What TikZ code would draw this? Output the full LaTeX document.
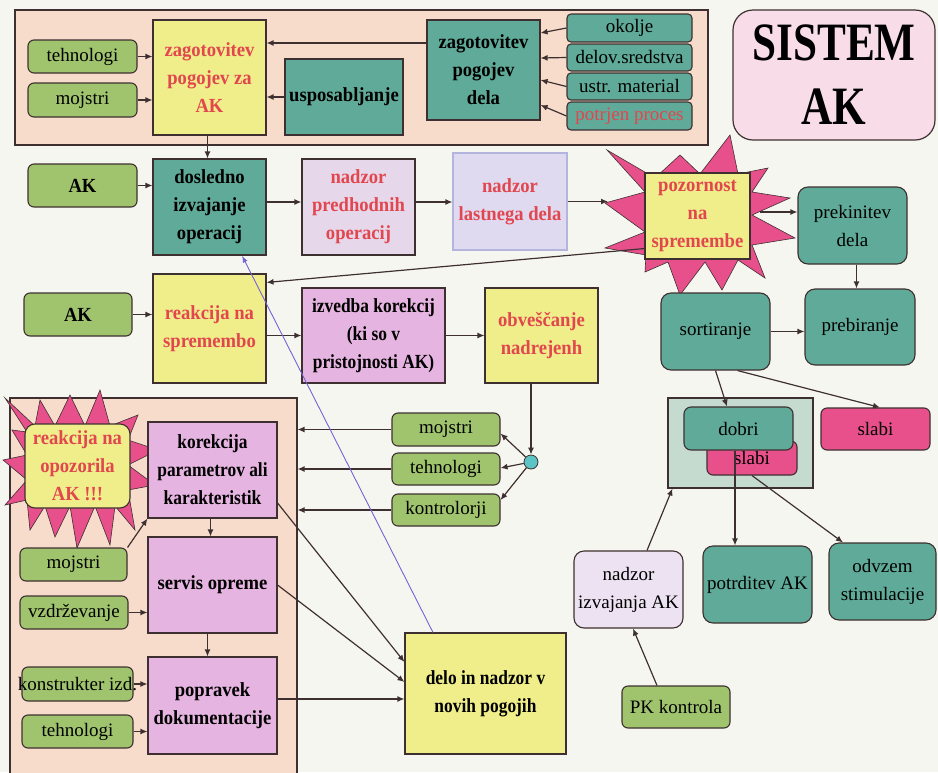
\documentclass[tikz,border=0pt]{standalone}
\usepackage{fontspec}
\setmainfont{Liberation Serif}[BoldFeatures={FakeStretch=0.93}]
\newfontfamily\condfont{Liberation Serif}[BoldFeatures={FakeStretch=0.87}]
\newfontfamily\titlefont{Liberation Serif}[BoldFeatures={FakeStretch=0.8}]
\usetikzlibrary{arrows.meta,calc}
\definecolor{bgc}{HTML}{F6F6F0}
\definecolor{edgec}{HTML}{3E3030}
\definecolor{peach}{HTML}{F8DCCB}
\definecolor{ylw}{HTML}{F0EE8A}
\definecolor{tealc}{HTML}{5FAA98}
\definecolor{grn}{HTML}{A0C46E}
\definecolor{lilac}{HTML}{E6D8EA}
\definecolor{lav}{HTML}{E0DAF0}
\definecolor{lavedge}{HTML}{B4B4DC}
\definecolor{pinkc}{HTML}{E6B4E0}
\definecolor{mag}{HTML}{E8508C}
\definecolor{sistc}{HTML}{F8DCE8}
\definecolor{framec}{HTML}{C5DBD0}
\definecolor{nizc}{HTML}{ECE2F2}
\definecolor{cyanc}{HTML}{5CC4C4}
\definecolor{redt}{HTML}{E2464E}
\definecolor{purp}{HTML}{7464D4}
\newcommand\fs{\fontsize{19}{28}\selectfont}
\newcommand\fb{\fontsize{20}{28}\selectfont\bfseries}
\newcommand\fc{\condfont\fontsize{20}{28}\selectfont\bfseries}
\tikzset{
  wh/.style 2 args={minimum width=#1pt, minimum height=#2pt},
  box/.style={draw=edgec, line width=1.1pt, inner sep=1pt, align=center, text=black, font=\fs},
  panel/.style={draw=edgec, fill=peach, line width=1.1pt, inner sep=0pt},
  grnbox/.style={box, fill=grn, rounded corners=6pt},
  tealsq/.style={box, fill=tealc, font=\fb},
  tealrnd/.style={box, fill=tealc, rounded corners=10pt},
  ylwbox/.style={box, fill=ylw, font=\fb, text=redt},
  pinkbox/.style={box, fill=pinkc, font=\fb},
  magbox/.style={box, fill=mag, rounded corners=6pt},
  arr/.style={-{Latex[length=7pt,width=6pt]}, line width=1.2pt, draw=edgec},
  burst/.style={fill=mag, draw=edgec, line width=0.6pt}
}
\begin{document}
\begin{tikzpicture}[x=1pt,y=-1pt]
\useasboundingbox (0,0) rectangle (938,772);
\fill[bgc] (0,0) rectangle (938,772);

% panels
\node[panel, wh={693}{135}] (panel1) at (361.5,77.5) {};
\node[panel, wh={287}{382}] (panel2) at (153.5,589) {};

% starbursts
\draw[burst] (607,150) -- (655,178) -- (680,155) -- (700,174) -- (730,135) -- (738,174)
  -- (768,168) -- (752,192) -- (790,198) -- (752,215) -- (795,238) -- (752,245)
  -- (765,278) -- (738,260) -- (722,290) -- (705,262) -- (680,295) -- (668,262)
  -- (645,272) -- (646,255) -- (605,248) -- (645,232) -- (605,203) -- (645,192) -- cycle;
\draw[burst] (5,398) -- (35,426) -- (40,400) -- (55,426) -- (70,395) -- (85,426)
  -- (100,390) -- (110,426) -- (138,415) -- (128,440) -- (158,450) -- (128,465)
  -- (155,485) -- (128,490) -- (135,530) -- (115,506) -- (110,545) -- (95,506)
  -- (77,548) -- (70,506) -- (55,537) -- (45,506) -- (30,530) -- (27,500)
  -- (5,505) -- (27,480) -- (3,460) -- (27,455) -- (12,430) -- (27,432) -- cycle;

% top panel
\node[ylwbox, wh={113}{115}] (zpa) at (209.5,77.5) {zagotovitev\\pogojev za\\AK};
\node[grnbox, wh={109}{33}] (tehA) at (82.5,56.5) {tehnologi};
\node[grnbox, wh={109}{34}] (mojA) at (82.5,100) {mojstri};
\node[tealsq, wh={118}{76}] (usp) at (344,97) {usposabljanje};
\node[tealsq, wh={113}{100}] (zpd) at (483.5,70) {zagotovitev\\pogojev\\dela};
\node[box, fill=tealc, rounded corners=4pt, wh={125}{28}] (okolje) at (629.5,28) {okolje};
\node[box, fill=tealc, rounded corners=4pt, wh={125}{27}] (delov) at (629.5,57.5) {delov.sredstva};
\node[box, fill=tealc, rounded corners=4pt, wh={125}{27}] (ustr) at (629.5,86.5) {ustr. material};
\node[box, fill=tealc, rounded corners=4pt, wh={125}{28}, text=redt] (potrjen) at (629.5,116) {potrjen proces};
\node[draw=edgec, fill=sistc, rounded corners=20pt, line width=1.2pt, wh={202}{130}, align=center,
  font=\titlefont\bfseries\fontsize{54}{64}\selectfont] (sistem) at (834,75) {SISTEM\\AK};

% row 2
\node[grnbox, wh={109}{43}, font=\fb] (AKa) at (82.5,185.5) {AK};
\node[tealsq, wh={113}{96}] (dos) at (209.5,207) {dosledno\\izvajanje\\operacij};
\node[box, fill=lilac, wh={113}{96}, font=\fb, text=redt] (npo) at (358.5,207) {nadzor\\predhodnih\\operacij};
\node[box, draw=lavedge, fill=lav, wh={114}{97}, font=\fb, text=redt] (nld) at (510,201.5) {nadzor\\lastnega dela};
\node[ylwbox, wh={105}{86}] (poz) at (697.5,216) {pozornost\\na\\spremembe};
\node[tealrnd, wh={109}{77}] (prek) at (852.5,225.5) {prekinitev\\dela};
\node[tealrnd, wh={110}{76}] (preb) at (860,327) {prebiranje};
\node[tealrnd, wh={109}{77}] (sort) at (715.5,331.5) {sortiranje};

% row 3
\node[grnbox, wh={108}{43}, font=\fb] (AKb) at (78,314.5) {AK};
\node[ylwbox, wh={113}{109}] (rea) at (209.5,328.5) {reakcija na\\spremembo};
\node[pinkbox, wh={143}{95}, font=\fc] (izv) at (373.5,335.5) {izvedba korekcij\\(ki so v\\pristojnosti AK)};
\node[ylwbox, wh={113}{95}] (obv) at (541.5,335.5) {obveščanje\\nadrejenh};

% distribution
\node[circle, draw=edgec, fill=cyanc, minimum size=14pt, inner sep=0pt, line width=0.8pt] (circ) at (531,462) {};
\node[grnbox, wh={108}{33}] (moj2) at (446,429.5) {mojstri};
\node[grnbox, wh={108}{32}] (teh2) at (446,469) {tehnologi};
\node[grnbox, wh={108}{32}] (kon2) at (446,510) {kontrolorji};

% bottom-left panel
\node[pinkbox, wh={129}{96}, font=\fc] (kor) at (212.5,470) {korekcija\\parametrov ali\\karakteristik};
\node[pinkbox, wh={129}{96}] (ser) at (212.5,585) {servis opreme};
\node[pinkbox, wh={129}{97}] (pop) at (212.5,705.5) {popravek\\dokumentacije};
\node[ylwbox, rounded corners=10pt, wh={105}{84}] (opo) at (77.5,466) {reakcija na\\opozorila\\AK !!!};
\node[grnbox, wh={107}{33}] (moj3) at (73.5,564.5) {mojstri};
\node[grnbox, wh={108}{33}] (vzd) at (74,612.5) {vzdrževanje};
\node[grnbox, wh={111}{34}] (konst) at (77.5,684) {};
\node[font=\fs, inner sep=0pt] (konsttxt) at (konst.center) {konstrukter izd.};
\node[grnbox, wh={111}{33}] (teh3) at (77.5,731.5) {tehnologi};
\node[ylwbox, wh={161}{121}, text=black, font=\fc] (delo) at (485.5,693.5) {delo in nadzor v\\novih pogojih};

% bottom-right
\node[draw=edgec, fill=framec, line width=1.1pt, wh={145}{90}, inner sep=0pt] (frame) at (740.5,443) {};
\node[magbox, wh={90}{34}] (slabiin) at (752,458) {\raisebox{-3pt}{slabi}};
\node[tealrnd, rounded corners=7pt, wh={109}{43}] (dobri) at (738.5,428.5) {dobri};
\node[magbox, wh={109}{42}] (slabir) at (875.5,429) {slabi};
\node[tealrnd, wh={109}{77}] (potr) at (757.5,584.5) {potrditev AK};
\node[tealrnd, wh={107}{77}] (odv) at (882.5,581.5) {odvzem\\stimulacije};
\node[box, fill=nizc, rounded corners=10pt, wh={109}{77}] (niz) at (628.5,589.5) {nadzor\\izvajanja AK};
\node[grnbox, wh={108}{42}] (pk) at (676,707) {PK kontrola};

% coordinates for free ends on the starburst
\coordinate (pozin) at (608,201.5);
\coordinate (pozout) at (760,212);

% connectors: top panel
\draw[arr] (tehA.east) -- (tehA.east -| zpa.west);
\draw[arr] (mojA.east) -- (mojA.east -| zpa.west);
\draw[arr] ([yshift=27pt]zpd.west) -- ([yshift=27pt]zpd.west -| zpa.east);
\draw[arr] (usp.west) -- (usp.west -| zpa.east);
\draw[arr] (okolje.west) -- ([yshift=37pt]zpd.east);
\draw[arr] (delov.west) -- ([yshift=12pt]zpd.east);
\draw[arr] (ustr.west) -- ([yshift=-10pt]zpd.east);
\draw[arr] (potrjen.west) -- ([yshift=-35pt]zpd.east);
\draw[arr] ([xshift=-2pt]zpa.south) -- ([xshift=-2pt]zpa.south |- dos.north);

% row 2
\draw[arr] (AKa.east) -- (AKa.east -| dos.west);
\draw[arr] ([yshift=5pt]dos.east) -- ([yshift=5pt]dos.east -| npo.west);
\draw[arr] ([yshift=5pt]npo.east) -- ([yshift=5pt]npo.east -| nld.west);
\draw[arr] (nld.east) -- (pozin);
\draw[arr] (pozout) -- (pozout -| prek.west);
\draw[arr] ([xshift=4pt]prek.south) -- ([xshift=4pt]prek.south |- preb.north);
\draw[arr] (sort.east) -- (sort.east -| preb.west);
\draw[arr] ([yshift=11pt]poz.south west) -- ([yshift=-9pt]rea.north east);

% row 3
\draw[arr] (AKb.east) -- (AKb.east -| rea.west);
\draw[arr] (rea.east |- izv.west) -- (izv.west);
\draw[arr] (izv.east) -- (izv.east -| obv.west);
\draw[arr] (obv.south -| circ.north) -- (circ.north);
\draw[arr] (circ) -- ([yshift=-4pt]moj2.east);
\draw[arr] (circ) -- ([yshift=1pt]teh2.east);
\draw[arr] (circ) -- ([yshift=10pt]kon2.east);
\draw[arr] (moj2.west) -- (moj2.west -| panel2.east);
\draw[arr] (teh2.west) -- (teh2.west -| panel2.east);
\draw[arr] (kon2.west) -- (kon2.west -| panel2.east);

% bottom-left
\draw[arr] ([xshift=-2pt]kor.south) -- ([xshift=-2pt]kor.south |- ser.north);
\draw[arr] ([xshift=-5pt]ser.south) -- ([xshift=-5pt]ser.south |- pop.north);
\draw[arr] (moj3.north east) -- (kor.south west);
\draw[arr] (vzd.east) -- (vzd.east -| ser.west);
\draw[arr] (konst.east) -- (konst.east -| pop.west);
\draw[arr] (teh3.east) -- (teh3.east -| pop.west);
\draw[arr] ([yshift=-33pt]kor.east) -- ([yshift=31.5pt]delo.west);
\draw[arr] (ser.east) -- ([yshift=11.5pt]delo.west);
\draw[arr] ([yshift=6.5pt]pop.east) -- ([yshift=6.5pt]pop.east -| delo.west);
\draw[-{Latex[length=7pt,width=5pt]}, line width=0.9pt, draw=purp] ([xshift=-52.5pt]delo.north) -- ([xshift=32.5pt]dos.south);

% bottom-right
\draw[arr] (sort.south) -- ([xshift=-11.5pt]dobri.north);
\draw[arr] ([xshift=22pt]sort.south) -- ([xshift=4.5pt]slabir.north);
\draw[arr] ([xshift=-3.5pt]dobri.south) -- ([xshift=-3.5pt]dobri.south |- potr.north);
\draw[arr] (slabiin.south) -- ([xshift=-39.5pt]odv.north);
\draw[arr] ([xshift=18.5pt]niz.north) -- ([xshift=5pt]frame.south west);
\draw[arr] ([xshift=-19pt]pk.north) -- ([xshift=4.5pt]niz.south);
\end{tikzpicture}
\end{document}
